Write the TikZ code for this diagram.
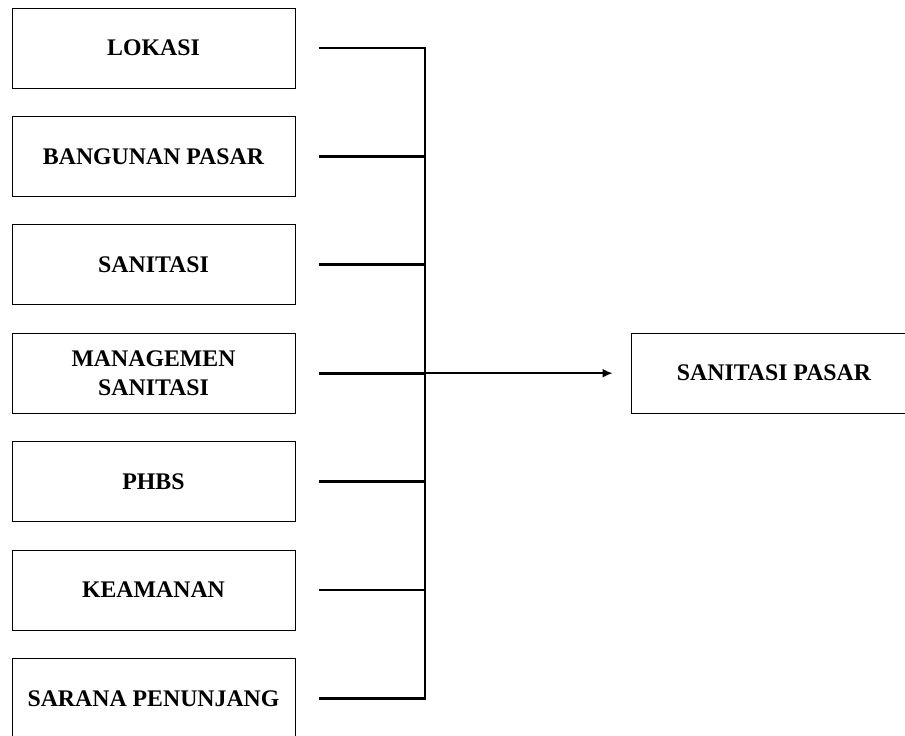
\documentclass[tikz,border=0pt]{standalone}
\usepackage{fontspec}
\setmainfont{Liberation Serif}
\usetikzlibrary{arrows.meta,positioning}

\begin{document}
\begin{tikzpicture}[x=0.5pt,y=-0.5pt,
                    node distance=13.7pt,
                    faktor/.style={draw,line width=0.5pt,minimum width=141.5pt,
                        minimum height=40pt,inner sep=0pt,align=center,
                        font=\fontsize{11.9}{14.5}\selectfont\bfseries},
                    cabang/.style={line width=1.4pt,shorten <=11.5pt}]
                    \useasboundingbox (0,0) rectangle (905,735);
                    % faktor-faktor di kiri
                    \node[faktor] (lokasi) at (153.5,48) {LOKASI};
                    \node[faktor,below=of lokasi] (bangunan) {BANGUNAN PASAR};
                    \node[faktor,below=of bangunan] (sanitasi) {SANITASI};
                    \node[faktor,below=of sanitasi] (managemen) {MANAGEMEN\\SANITASI};
                    \node[faktor,below=of managemen] (phbs) {PHBS};
                    \node[faktor,below=of phbs] (keamanan) {KEAMANAN};
                    \node[faktor,below=of keamanan] (sarana) {SARANA PENUNJANG};
                    % hasil
                    \node[faktor,minimum width=143pt] (sanpasar) at (774,373) {SANITASI PASAR};
                    \coordinate (trunk) at (425,0);
                    \draw[cabang,shorten >=11.5pt] (lokasi.east) -- (lokasi.east -| trunk)
                        -- (sarana.east -| trunk) -- (sarana.east);
                    \foreach \n in {bangunan,sanitasi,managemen,phbs,keamanan}
                        \draw[cabang] (\n.east) -- (\n.east -| trunk);
                    \draw[line width=0.8pt,-{Latex[length=5pt,width=4.5pt]},shorten >=9pt]
                        (managemen.east -| trunk) -- (sanpasar.west |- managemen.east);
                \end{tikzpicture}
\end{document}
